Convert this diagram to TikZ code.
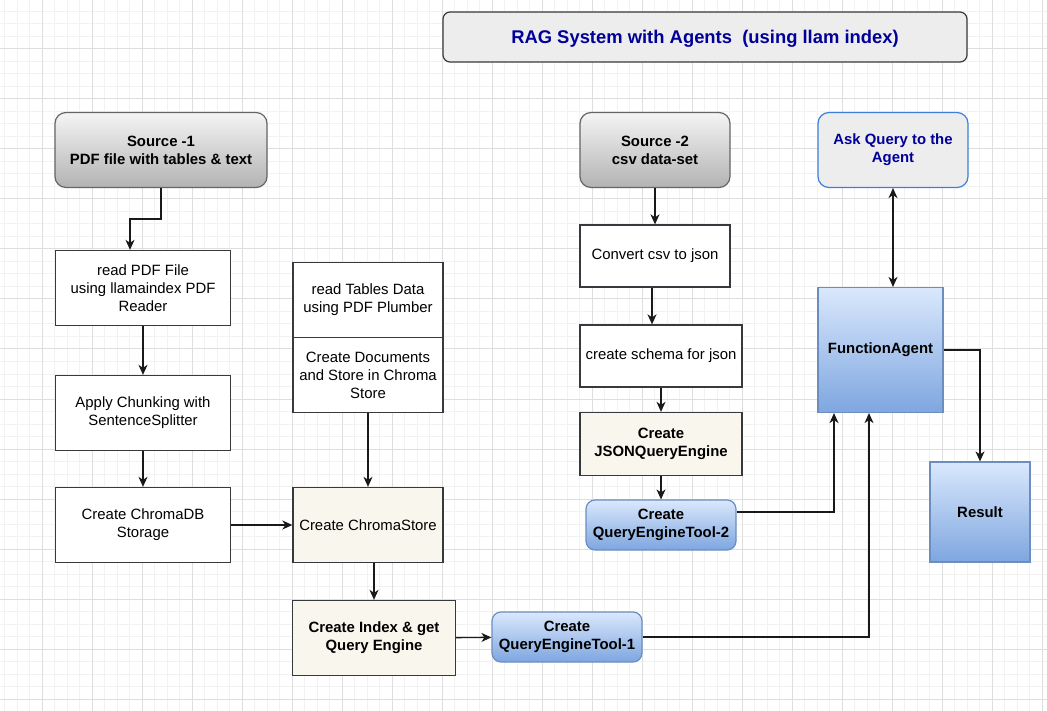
\documentclass[tikz,border=0pt]{standalone}
\usepackage{fontspec}
\setmainfont{Liberation Sans}
\usepackage{tikz}
\usetikzlibrary{positioning, arrows.meta}
\definecolor{navy}{HTML}{000099}
\definecolor{beige}{HTML}{F9F7ED}
\definecolor{edge}{HTML}{36393D}
\definecolor{bluetop}{HTML}{DAE8FC}
\definecolor{bluebot}{HTML}{7EA6E0}
\definecolor{blueline}{HTML}{6C8EBF}
\definecolor{askline}{HTML}{3C80D8}

\begin{document}
\begin{tikzpicture}[x=1pt, y=-1pt,
  txt/.style={font=\fontsize{14.9}{18}\selectfont, align=center, inner sep=2pt},
  plain/.style={txt, draw=edge, line width=1.3pt, fill=white},
  creamy/.style={txt, draw=edge, line width=1.3pt, fill=beige},
  graysrc/.style={txt, font=\fontsize{14.9}{18}\selectfont\bfseries, draw=black!60,
    line width=1.2pt, rounded corners=11pt, top color=black!4, bottom color=black!30},
  bluetool/.style={txt, font=\fontsize{14.9}{18}\selectfont\bfseries, draw=blueline,
    line width=1.2pt, rounded corners=9pt, top color=bluetop, bottom color=bluebot},
  bluebox/.style={txt, font=\fontsize{14.9}{18}\selectfont\bfseries, draw=blueline,
    line width=1.2pt, top color=bluetop, bottom color=bluebot},
  link/.style={line width=1.4pt, draw=black!90, -{Stealth[length=10pt,width=9pt,inset=3pt]}},
  twoway/.style={line width=1.4pt, draw=black!90,
    {Stealth[length=10pt,width=9pt,inset=3pt]}-{Stealth[length=10pt,width=9pt,inset=3pt]}}]

\fill[white] (0,0) rectangle (1047,711);
\useasboundingbox (0,0) rectangle (1047,711);
% grid
\foreach \i in {0,...,84} \draw[black!5, line width=1pt] (-8+12.5*\i,0) -- ++(0,711);
\foreach \i in {0,...,56} \draw[black!5, line width=1pt] (0,-1+12.5*\i) -- ++(1047,0);
\foreach \i in {0,...,21} \draw[black!13, line width=1pt] (-8+50*\i,0) -- ++(0,711);
\foreach \i in {0,...,14} \draw[black!13, line width=1pt] (0,-1+50*\i) -- ++(1047,0);

% title
\node[txt, font=\fontsize{18.4}{22}\selectfont\bfseries, text=navy, draw=edge, line width=1.2pt,
  fill=black!7, rounded corners=7pt, minimum width=524pt, minimum height=50pt,
  text height=15pt, text depth=1.5pt]
  (title) at (705,37) {RAG System with Agents \ (using llam index)};

% source 1 column
\node[graysrc, minimum width=212pt, minimum height=75pt] (src1) at (161,150)
  {Source -1\\PDF file with tables \& text};
\node[plain, minimum width=175pt, minimum height=75pt] (readpdf) at (143,288)
  {read PDF File\\using llamaindex PDF\\Reader};
\node[plain, minimum width=175pt, minimum height=75pt] (chunk) at (143,413)
  {Apply Chunking with\\SentenceSplitter};
\node[plain, minimum width=175pt, minimum height=75pt] (chromadb) at (143,525)
  {Create ChromaDB\\Storage};

% tables
\node[plain, minimum width=150pt, minimum height=75pt] (tbl1) at (368,300)
  {read Tables Data\\using PDF Plumber};
\node[plain, minimum width=150pt, minimum height=75pt] (tbl2) at (368,375)
  {Create Documents\\and Store in Chroma\\Store};
\node[creamy, minimum width=150pt, minimum height=75pt] (store) at (368,525)
  {Create ChromaStore};
\node[creamy, font=\fontsize{14.9}{18}\selectfont\bfseries, minimum width=163pt,
  minimum height=75pt] (index) at (374,638) {Create Index \& get\\Query Engine};
\node[bluetool, minimum width=150pt, minimum height=50pt] (tool1) at (567,637)
  {Create\\QueryEngineTool-1};

% source 2 column
\node[graysrc, minimum width=150pt, minimum height=75pt] (src2) at (655,150)
  {Source -2\\csv data-set};
\node[plain, minimum width=150pt, minimum height=62pt] (convert) at (655,256)
  {Convert csv to json};
\node[plain, minimum width=162pt, minimum height=62pt] (schema) at (661,356)
  {create schema for json};
\node[creamy, font=\fontsize{14.9}{18}\selectfont\bfseries, minimum width=162pt,
  minimum height=63pt] (json) at (661,444) {Create\\JSONQueryEngine};
\node[bluetool, minimum width=150pt, minimum height=50pt] (tool2) at (661,525)
  {Create\\QueryEngineTool-2};

% agent
\node[txt, font=\fontsize{14.9}{18}\selectfont\bfseries, text=navy, draw=askline,
  line width=1.2pt, fill=black!7, rounded corners=11pt, minimum width=150pt,
  minimum height=75pt] (ask) at (893,150) {Ask Query to the\\Agent};
\node[bluebox, minimum width=125pt, minimum height=125pt] (agent) at (880.5,350)
  {FunctionAgent};
\node[bluebox, minimum width=100pt, minimum height=100pt] (result) at (980,512)
  {Result};

% connectors
\draw[link] (src1.south) -- ++(0,31) -| ([xshift=-13pt]readpdf.north);
\draw[link] (readpdf) -- (chunk);
\draw[link] (chunk) -- (chromadb);
\draw[link] (chromadb) -- (store);
\draw[link] (tbl2) -- (store);
\draw[link] (index.north |- store.south) -- (index.north);
\draw[link] (index) -- (tool1);
\draw[link] (tool1.east) -| ([xshift=-11.5pt]agent.south);
\draw[link] (src2) -- (convert);
\draw[link] ([xshift=-3pt]convert.south) -- ([xshift=-9pt]schema.north);
\draw[link] (schema) -- (json);
\draw[link] (json) -- (tool2);
\draw[link] ([yshift=13pt]tool2.east) -| ([xshift=-46.5pt]agent.south);
\draw[twoway] (ask.south) -- (ask.south |- agent.north);
\draw[link] (agent.east) -| (result.north);

\end{tikzpicture}
\end{document}
